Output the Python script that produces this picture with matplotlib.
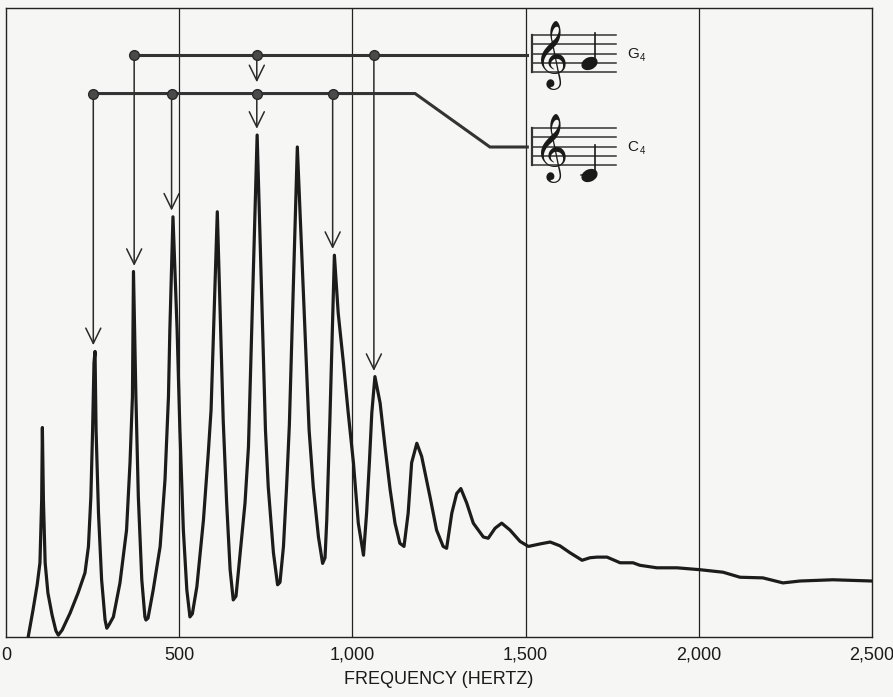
import numpy as np
import matplotlib
matplotlib.use("Agg")
import matplotlib.pyplot as plt
from matplotlib.path import Path
from matplotlib.transforms import Affine2D
from matplotlib import font_manager
from matplotlib.ft2font import FT2Font

# ---- spectrum trace: frequency (Hz), relative level (0-100)
freq_hz = [64, 78, 90, 98, 103, 105, 108, 113, 121, 133,
           144, 151, 162, 185, 208, 228, 238, 245, 250, 254,
           257, 260, 267, 276, 286, 291, 297, 310, 329, 348,
           358, 365, 368, 375, 382, 392, 401, 404, 410, 425,
           445, 459, 469, 473, 482, 494, 502, 512, 522, 531,
           538, 551, 570, 584, 592, 610, 627, 637, 647, 656,
           664, 676, 690, 700, 725, 749, 757, 772, 784, 791,
           801, 810, 818, 841, 875, 887, 902, 914, 921, 926,
           935, 948, 959, 974, 988, 1003, 1017, 1032, 1041, 1049,
           1056, 1065, 1080, 1094, 1109, 1123, 1137, 1149, 1161, 1171,
           1186, 1200, 1224, 1243, 1262, 1272, 1287, 1301, 1313, 1330,
           1349, 1378, 1392, 1412, 1431, 1455, 1484, 1508, 1542, 1571,
           1599, 1628, 1663, 1686, 1706, 1735, 1773, 1810, 1830, 1879,
           1937, 2003, 2070, 2119, 2185, 2243, 2292, 2387, 2500]
level = [0, 4.3, 8.3, 11.8, 21.8, 33.3, 21.8, 11.8, 7.0, 3.5,
         1.0, 0.3, 1.1, 3.8, 7.0, 10.2, 14.4, 22.3, 32.9, 43.6,
         45.4, 32.9, 19.7, 9.1, 2.7, 1.4, 1.9, 3.2, 8.6, 17.0,
         27.7, 38.2, 58.1, 38.2, 22.3, 9.1, 3.2, 2.7, 3.0, 7.5,
         14.4, 25.0, 38.2, 48.8, 66.8, 48.8, 32.9, 17.0, 7.5, 3.2,
         3.7, 8.0, 18.6, 29.3, 36.1, 67.6, 34.5, 21.3, 10.7, 5.9,
         6.5, 13.4, 21.3, 30.3, 79.8, 32.9, 23.9, 13.4, 8.3, 8.7,
         14.4, 23.9, 33.7, 77.9, 32.9, 23.9, 15.9, 11.7, 12.6, 18.6,
         34.5, 60.7, 51.5, 43.6, 35.6, 27.7, 18.1, 13.0, 19.7, 27.7,
         35.6, 41.4, 37.2, 30.3, 23.4, 18.1, 14.9, 14.4, 19.7, 27.7,
         30.8, 28.7, 22.3, 17.0, 14.4, 14.1, 19.7, 22.8, 23.6, 21.3,
         18.1, 15.9, 15.7, 17.3, 18.1, 17.0, 15.2, 14.4, 14.8, 15.1,
         14.5, 13.4, 12.2, 12.6, 12.7, 12.7, 11.8, 11.8, 11.4, 11.0,
         11.0, 10.7, 10.3, 9.5, 9.4, 8.6, 8.9, 9.1, 8.9]

x_ticks = [0, 500, 1000, 1500, 2000, 2500]
x_tick_labels = ["0", "500", "1,000", "1,500", "2,000", "2,500"]
grid_hz = [500, 1000, 1500, 2000]

# harmonic markers of the two notes
c4_harmonics_hz = [252, 478, 724, 943]
g4_harmonics_hz = [370, 724, 1062]
c4_line_level = 86.4
g4_line_level = 92.6
c4_lead_hz = [1181, 1397, 1505]      # bend of the C4 lead line toward its staff
c4_lead_level = [86.4, 77.9, 77.9]
g4_lead_end_hz = 1505

INK = "#222222"
BG = "#f6f7f5"
FONT = ["Liberation Sans", "DejaVu Sans"]
CLEF = "\U0001D11E"

# installed families that have the treble clef glyph; prefer an outline font
clef_candidates = []
for fe in font_manager.fontManager.ttflist:
    try:
        if 0x1D11E in FT2Font(fe.fname).get_charmap():
            clef_candidates.append(fe.name)
    except Exception:
        pass
clef_family = None
for nm in clef_candidates:
    if "unifont" not in nm.lower():
        clef_family = nm
        break
if clef_family is None and clef_candidates:
    clef_family = clef_candidates[0]

fig = plt.figure(figsize=(8.93, 6.97), dpi=100)
fig.patch.set_facecolor(BG)
ax = fig.add_axes([6 / 893, 60 / 697, (872 - 6) / 893, (637 - 8) / 697])
ax.set_facecolor(BG)
ax.set_xlim(0, 2500)
ax.set_ylim(0, 100)

for g in grid_hz:
    ax.axvline(g, color=INK, lw=0.9, zorder=1)

f_arr = np.array(freq_hz, dtype=float)
l_arr = np.array(level, dtype=float)
ax.plot(f_arr, l_arr, color="#1c1c1c", lw=2.3, solid_joinstyle="round",
        solid_capstyle="round", zorder=3)

# ---- harmonic lead lines, dots and arrows
def peak_level(h):
    m = np.abs(f_arr - h) < 20
    return l_arr[m].max()

arrow_kw = dict(arrowstyle="->,head_length=0.55,head_width=0.27", color="#2a2a2a",
                lw=1.1, shrinkA=0, shrinkB=0, mutation_scale=20)

for h in c4_harmonics_hz:
    ax.annotate("", xy=(h, peak_level(h) + 1.0), xytext=(h, c4_line_level),
                arrowprops=arrow_kw, zorder=4)
for h in g4_harmonics_hz:
    if h in c4_harmonics_hz:
        tip = c4_line_level + 1.8
    else:
        tip = peak_level(h) + 0.9
    ax.annotate("", xy=(h, tip), xytext=(h, g4_line_level),
                arrowprops=arrow_kw, zorder=4)

ax.plot([c4_harmonics_hz[0]] + c4_lead_hz, [c4_line_level] + c4_lead_level,
        color="#333333", lw=2.2, solid_joinstyle="miter", zorder=5)
ax.plot([g4_harmonics_hz[0], g4_lead_end_hz], [g4_line_level] * 2,
        color="#333333", lw=2.2, zorder=5)
ax.plot(c4_harmonics_hz, [c4_line_level] * len(c4_harmonics_hz), "o",
        color="#4a4a4a", mec="#2a2a2a", ms=7, zorder=6)
ax.plot(g4_harmonics_hz, [g4_line_level] * len(g4_harmonics_hz), "o",
        color="#4a4a4a", mec="#2a2a2a", ms=7, zorder=6)

# ---- treble clef outline (used only when no installed font has the glyph)
clef_u = [-0.7, -0.45, 0.05, 0.45, 0.55, 0.45, 0.3, 0.2, 0.2, 0.35, 0.65, 0.85, 0.8,
          0.4, -0.3, -0.9, -1.25, -1.3, -0.95, -0.3, 0.5, 1.1, 1.3, 1.05, 0.45,
          -0.15, -0.4, -0.25, 0.1]
clef_v = [-2.6, -3.05, -3.2, -2.95, -2.4, -1.0, 1.0, 2.8, 4.0, 5.0, 5.6, 5.3, 4.5,
          3.6, 2.8, 1.9, 0.9, -0.1, -0.9, -1.3, -1.3, -0.85, -0.1, 0.65, 1.0,
          0.8, 0.3, -0.15, -0.3]

def catmull(xs, ys, n=10):
    p = np.column_stack([xs, ys])
    p = np.vstack([p[0], p, p[-1]])
    out = []
    for i in range(1, len(p) - 2):
        p0, p1, p2, p3 = p[i - 1], p[i], p[i + 1], p[i + 2]
        for t in np.linspace(0, 1, n, endpoint=False):
            out.append(0.5 * ((2 * p1) + (-p0 + p2) * t +
                              (2 * p0 - 5 * p1 + 4 * p2 - p3) * t ** 2 +
                              (-p0 + 3 * p1 - 3 * p2 + p3) * t ** 3))
    out.append(p[-2])
    return np.array(out)

clef_curve = catmull(clef_u, clef_v)
UX, UY = 26.0, 1.21   # one clef unit in Hz and in level units

def draw_clef(x0, y0):
    if clef_family is not None:
        ax.text(x0 - 3, y0 + 1.2, CLEF, fontsize=42, family=[clef_family],
                ha="center", va="center", color="#1a1a1a", zorder=6)
        return
    cx = x0 + clef_curve[:, 0] * UX
    cy = y0 + clef_curve[:, 1] * UY
    ax.plot(cx, cy, color="#1a1a1a", lw=1.7, solid_capstyle="round",
            solid_joinstyle="round", zorder=6)
    ax.plot([x0 + clef_u[0] * UX], [y0 + clef_v[0] * UY], "o", color="#1a1a1a",
            ms=5.5, zorder=6)

# ---- staves with treble clef and note
staff_left, staff_right = 1518, 1760
space = 1.48
head = Path.unit_circle().transformed(Affine2D().scale(1.35, 0.95).rotate_deg(25))

def staff(bottom, step, name):
    for i in range(5):
        y = bottom + i * space
        ax.plot([staff_left, staff_right], [y, y], color="#333333", lw=1.1, zorder=5)
    ax.plot([staff_left, staff_left], [bottom, bottom + 4 * space], color="#333333",
            lw=1.6, zorder=5)
    draw_clef(1576, bottom + 1 * space)
    ny = bottom + step * space
    nx = 1682
    if step < 0:
        ax.plot([nx - 22, nx + 22], [ny, ny], color="#333333", lw=1.1, zorder=5)
    ax.plot([nx], [ny], marker=head, ms=11, color="#1a1a1a", zorder=7)
    ax.plot([nx + 19, nx + 19], [ny + 0.3, ny + 3.2 * space], color="#1a1a1a", lw=1.2, zorder=7)
    ax.text(1793, bottom + 2 * space, name[0], fontsize=11, family=FONT,
            ha="left", va="center", color="#1a1a1a", zorder=6)
    ax.annotate(name[1], xy=(1793, bottom + 2 * space), xytext=(9, -3.5),
                textcoords="offset points", fontsize=7, family=FONT,
                ha="left", va="center", color="#1a1a1a", zorder=6)

staff(89.8, 1, "G4")
staff(75.0, -1, "C4")

# ---- axes styling
ax.set_xticks(x_ticks, x_tick_labels)
ax.set_yticks([])
ax.tick_params(axis="x", length=0, pad=7, labelsize=13, colors="#1a1a1a")
for lab in ax.get_xticklabels():
    lab.set_family(FONT)
ax.set_xlabel("FREQUENCY (HERTZ)", fontsize=13, family=FONT, labelpad=5, color="#1a1a1a")
for s in ax.spines.values():
    s.set_color(INK)
    s.set_linewidth(1.0)

fig.savefig("out.png", dpi=100, facecolor=BG)
